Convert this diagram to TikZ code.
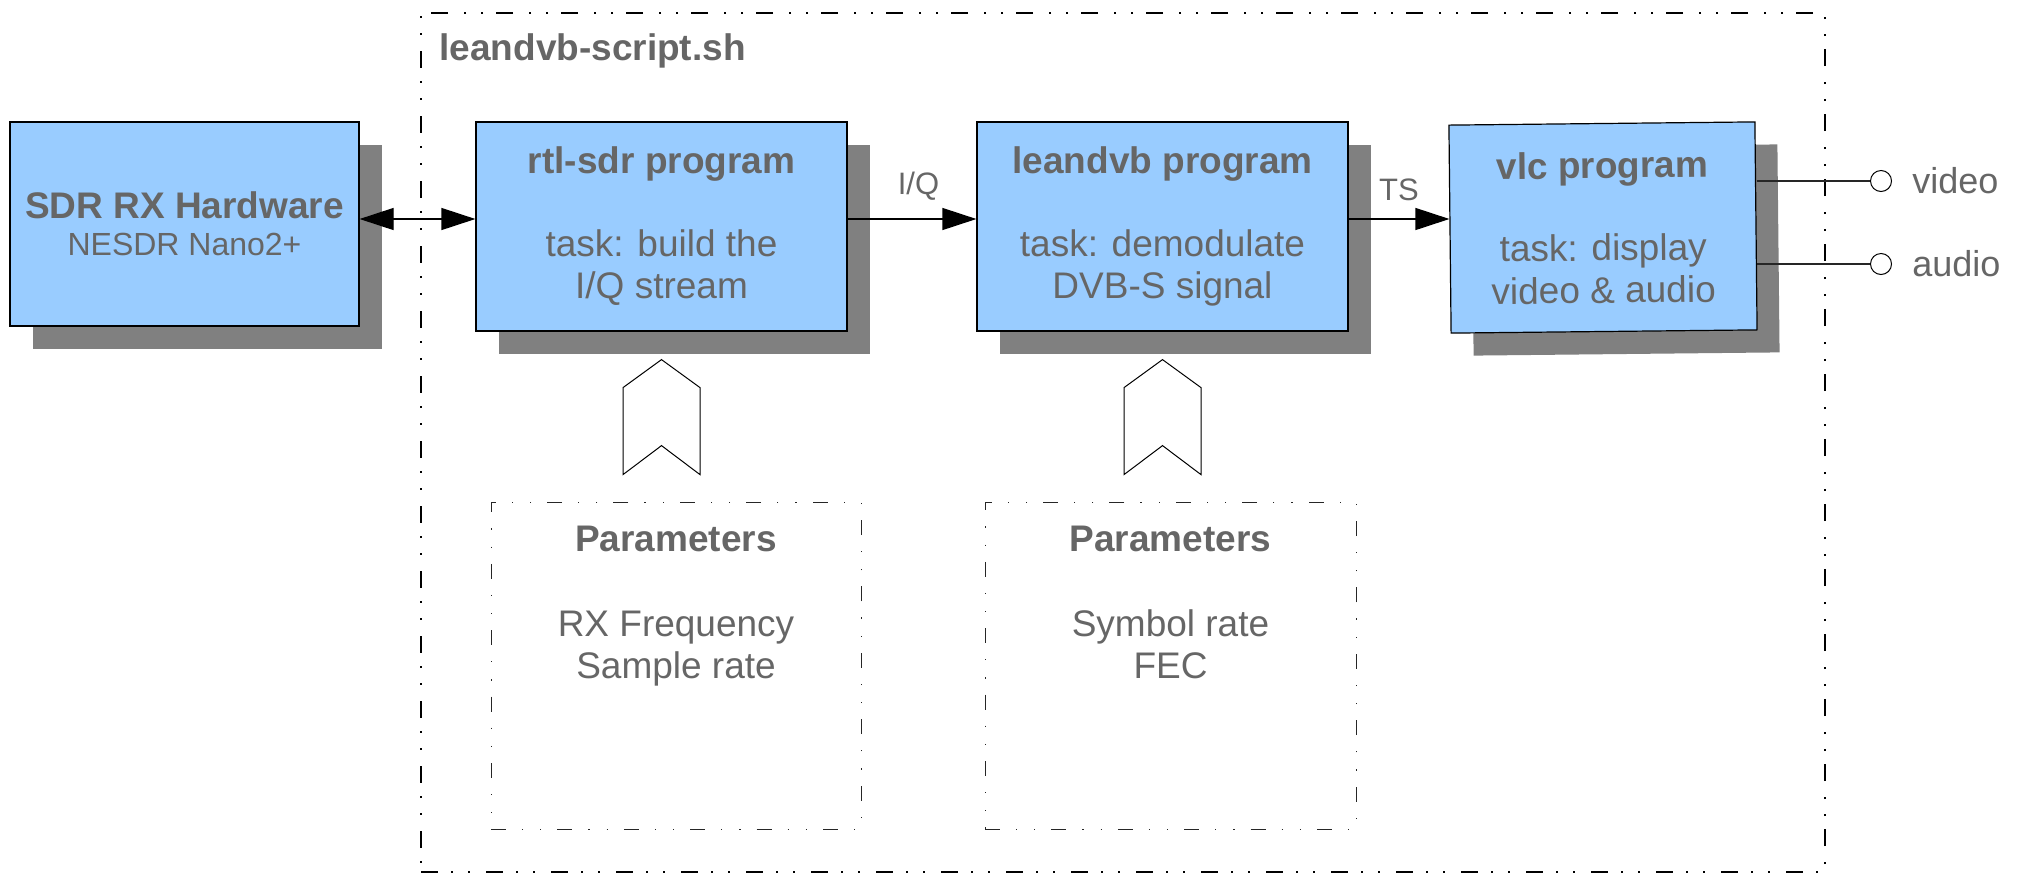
\documentclass[tikz,border=0pt]{standalone}
\usepackage{fontspec}
\setmainfont{Liberation Sans}
\usepackage{tikz}
\usetikzlibrary{arrows.meta,positioning,shadows}
\definecolor{boxblue}{HTML}{99CCFF}
\definecolor{shadowgray}{HTML}{808080}
\definecolor{textgray}{HTML}{666666}

\begin{document}
\begin{tikzpicture}[x=0.5pt, y=-0.5pt,
    progbox/.style={draw=black, line width=0.6pt, fill=boxblue, text=textgray, align=center, inner sep=0pt,
        minimum width=185.5pt, minimum height=104.5pt, font=\fontsize{18.5}{21.25}\selectfont,
        drop shadow={shadow xshift=11.25pt, shadow yshift=-11.25pt, fill=shadowgray, opacity=1}},
    scriptframe/.style={draw=black, line width=1pt, dash pattern=on 8.5pt off 6.5pt on 1pt off 7.5pt on 1pt off 8pt,
        minimum width=702pt, minimum height=429.5pt, inner sep=0pt},
    paramframe/.style={draw=black!85, line width=0.5pt, dash pattern=on 7.5pt off 8pt on 0.6pt off 8.5pt on 0.6pt off 8pt,
        minimum width=185pt, minimum height=163.5pt, inner sep=0pt},
    paramtext/.style={text=textgray, align=center, inner sep=0pt, font=\fontsize{18.5}{21.25}\selectfont},
    titletext/.style={text=textgray, inner sep=0pt, font=\fontsize{18.5}{21.25}\selectfont\bfseries},
    sublabel/.style={text=textgray, inner sep=0pt, font=\fontsize{15.5}{18}\selectfont},
    porttext/.style={text=textgray, inner sep=0pt, font=\fontsize{18}{21}\selectfont},
    port/.style={circle, draw=black, line width=0.5pt, fill=white, minimum size=10.5pt, inner sep=0pt},
    chevron/.style={draw=black, line width=0.5pt, fill=white, line join=miter},
    wire/.style={draw=black!85, line width=0.6pt},
    sigto/.style={line width=0.6pt, -{Triangle[length=17pt,width=11pt]}},
    sigboth/.style={line width=0.6pt, {Triangle[length=17pt,width=11pt]}-{Triangle[length=17pt,width=11pt]}}]
    \useasboundingbox (0,0) rectangle (2024,874);

    \node[scriptframe] (script) at (1123,442.5) {};
    \node[titletext, below right=10.5pt and 9.5pt of script.north west] (scripttitle) {leandvb-script.sh};

    \node[progbox, minimum width=174.5pt, minimum height=102pt] (sdr) at (184.5,224) {\textbf{SDR RX Hardware}\\[-2.75pt] {\fontsize{16}{18.5}\selectfont NESDR Nano2+}};
    \node[progbox] (rtl) at (661.5,226.5) {\textbf{rtl-sdr program}\\[20pt] task: build the\\ I/Q stream};
    \node[progbox] (lea) at (1162.5,226.5) {\textbf{leandvb program}\\[20pt] task: demodulate\\ DVB-S signal};
    \node[progbox, minimum width=153pt, minimum height=104pt, rotate=0.6] (vlc) at (1603,227.5) {\textbf{vlc program}\\[20pt] task: display\\ video \& audio};

    \node[paramframe] (rxparam) at (676,665.5) {};
    \node[paramtext, below=12pt of rxparam.north] (rxtext) {\textbf{Parameters}\\[21.25pt] RX Frequency\\ Sample rate};
    \node[paramframe, minimum width=185.5pt] (symparam) at (1170.5,665.5) {};
    \node[paramtext, below=12pt of symparam.north] (symtext) {\textbf{Parameters}\\[21.25pt] Symbol rate\\ FEC};

    \foreach \prog in {rtl,lea}
        \draw[chevron] ([yshift=-14pt]\prog.south) -- ++(19.25pt,-14pt) -- ++(0pt,-43.5pt) -- ++(-19.25pt,14.5pt)
            -- ++(-19.25pt,-14.5pt) -- ++(0pt,43.5pt) -- cycle;

    \draw[sigboth] ([yshift=2.5pt]sdr.east) -- ([yshift=3.75pt]rtl.west);
    \draw[sigto] ([yshift=3.75pt]rtl.east) -- node[sublabel, above=9pt, pos=0.55] {I/Q} ([yshift=3.75pt]lea.west);
    \draw[sigto] ([yshift=3.75pt]lea.east) -- node[sublabel, above=9pt] {TS} ([yshift=3.75pt]lea.east -| vlc.west);

    \node[port] (vidport) at (1881,181) {};
    \node[port] (audport) at (1881,264) {};
    \node[porttext, right=10pt of vidport] (vidtxt) {video};
    \node[porttext, right=10pt of audport] (audtxt) {audio};
    \draw[wire] (vlc.east |- vidport) -- (vidport);
    \draw[wire] (vlc.east |- audport) -- (audport);
\end{tikzpicture}
\end{document}
